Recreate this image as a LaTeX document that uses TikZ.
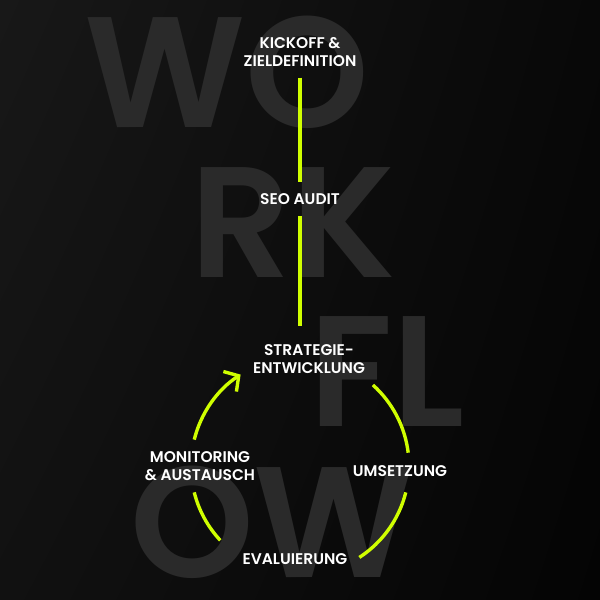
\documentclass[tikz,border=0pt]{standalone}
\usepackage{fontspec}
\setmainfont{Poppins}
\newfontfamily\wordfont{Poppins SemiBold}
\newfontfamily\labelfont{Poppins SemiBold}
\usetikzlibrary{arrows.meta,shadings}
\definecolor{lime}{RGB}{208,255,0}
\definecolor{ghost}{RGB}{42,42,42}
\definecolor{bgA}{RGB}{24,24,24}
\definecolor{bgB}{RGB}{8,8,8}
\definecolor{bgC}{RGB}{17,17,17}
\definecolor{bgD}{RGB}{4,4,4}

\begin{document}
\begin{tikzpicture}[x=0.025cm, y=0.025cm,
		flow/.style={draw=lime, line width=2.4pt},
		stage/.style={text=white, font=\labelfont\fontsize{11}{12.5}\selectfont, align=center, inner sep=0pt},
		bigword/.style={text=ghost, font=\wordfont\fontsize{112}{112}\selectfont, inner sep=0pt, anchor=base west}]
			%%%%% START %%%%%
			
			\shade[upper left=bgA, upper right=bgB, lower left=bgC, lower right=bgD] (0, 0) rectangle (600, 600);
			\useasboundingbox (0, 0) rectangle (600, 600);
			
			\node[bigword] (wo) at (84, 472) {WO};
			\node[bigword] (rk) at (190, 322) {RK};
			\node[bigword] (fl) at (309, 173) {FL};
			\node[bigword] (ow) at (130, 22) {OW};
			
			\node[stage] (kick) at (300, 548) {KICKOFF \&\\ZIELDEFINITION};
			\node[stage] (seo) at (300, 401) {SEO AUDIT};
			\node[stage] (strat) at (309, 241) {STRATEGIE-\\ENTWICKLUNG};
			
			\coordinate (cyc) at (300, 134);
			\node[stage] (ums) at (400, 129) {UMSETZUNG};
			\node[stage] (eval) at (295, 41) {EVALUIERUNG};
			\node[stage] (mon) at (200, 134) {MONITORING\\\& AUSTAUSCH};
			
			\draw[flow, shorten <=7.8pt, shorten >=7.8pt] (kick) -- (seo);
			\draw[flow, shorten <=7.8pt, shorten >=12.8pt] (seo) -- (seo |- strat.north);
			
			\draw[flow] (cyc) ++(48:109) arc[start angle=48, end angle=7, radius=109];
			\draw[flow] (cyc) ++(-14:109) arc[start angle=-14, end angle=-57, radius=109];
			\draw[flow] (cyc) ++(-137:109) arc[start angle=-137, end angle=-166, radius=109];
			\draw[flow, -{Straight Barb[length=7.5pt, width=17pt]}] (cyc) ++(166:109) arc[start angle=166, end angle=123, radius=109];
			
			%%%%% END %%%%%
\end{tikzpicture}
\end{document}
